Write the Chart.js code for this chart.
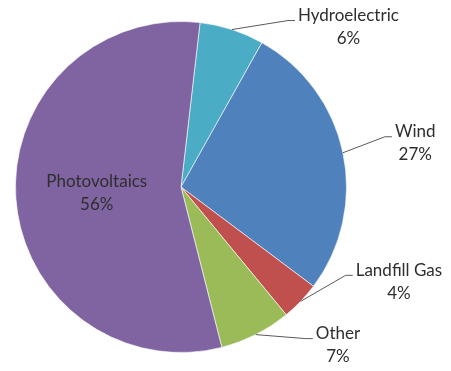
<!DOCTYPE html>
<html>
<head>
<meta charset="utf-8">
<script src="https://cdn.jsdelivr.net/npm/chart.js@4.4.0/dist/chart.umd.min.js"></script>
<style>
  html, body { margin: 0; padding: 0; background: #fff; }
  #wrap { width: 451px; height: 371px; }
</style>
</head>
<body>
<div id="wrap"><canvas id="pieChart" width="451" height="371"></canvas></div>
<script>
// data, clockwise from the top
const sources = ['Hydroelectric', 'Wind', 'Landfill Gas', 'Other', 'Photovoltaics'];
const shares = [6.3, 27.1, 3.8, 7.0, 55.8];
const sliceColors = ['#4BACC6', '#4F81BD', '#C0504D', '#9BBB59', '#8064A2'];

// label placement: elbow offset from slice edge, null = inside the slice
const labelOffsets = [[56, -9], [42, -16], [45, -26], [50, 4], null];

const total = shares.reduce((a, b) => a + b, 0);

const pieLabels = {
  id: 'pieLabels',
  afterDatasetsDraw(chart) {
    const ctx = chart.ctx;
    const arcs = chart.getDatasetMeta(0).data;
    ctx.save();
    ctx.font = '17px Lato';
    ctx.fillStyle = '#2e2e2e';
    ctx.textAlign = 'center';
    ctx.textBaseline = 'middle';
    arcs.forEach((arc, i) => {
      const p = arc.getProps(['x', 'y', 'startAngle', 'endAngle', 'outerRadius'], true);
      const mid = (p.startAngle + p.endAngle) / 2;
      const lines = [sources[i], Math.round(shares[i] / total * 100) + '%'];
      const off = labelOffsets[i];
      if (!off) {
        const r = p.outerRadius * 0.51;
        const cx = p.x + Math.cos(mid) * r;
        const cy = p.y + Math.sin(mid) * r;
        ctx.fillText(lines[0], cx, cy - 11);
        ctx.fillText(lines[1], cx, cy + 12);
        return;
      }
      const ex = p.x + Math.cos(mid) * p.outerRadius;
      const ey = p.y + Math.sin(mid) * p.outerRadius;
      const bx = ex + off[0], by = ey + off[1];
      ctx.strokeStyle = '#5a5a5a';
      ctx.lineWidth = 1;
      ctx.beginPath();
      ctx.moveTo(ex, ey);
      ctx.lineTo(bx, by);
      ctx.lineTo(bx + 7, by);
      ctx.stroke();
      const w = Math.max(...lines.map(t => ctx.measureText(t).width));
      const cx = bx + 10 + w / 2;
      ctx.fillText(lines[0], cx, by - 5);
      ctx.fillText(lines[1], cx, by + 18);
    });
    ctx.restore();
  }
};

new Chart(document.getElementById('pieChart').getContext('2d'), {
  type: 'pie',
  data: {
    labels: sources,
    datasets: [{
      data: shares,
      backgroundColor: sliceColors,
      borderColor: 'rgba(255,255,255,0.6)',
      borderWidth: 1
    }]
  },
  options: {
    responsive: false,
    animation: false,
    rotation: 6.6,
    layout: { padding: { left: 15, right: 104, top: 21, bottom: 18 } },
    plugins: {
      legend: { display: false },
      tooltip: { enabled: false }
    }
  },
  plugins: [pieLabels]
});
</script>
</body>
</html>
